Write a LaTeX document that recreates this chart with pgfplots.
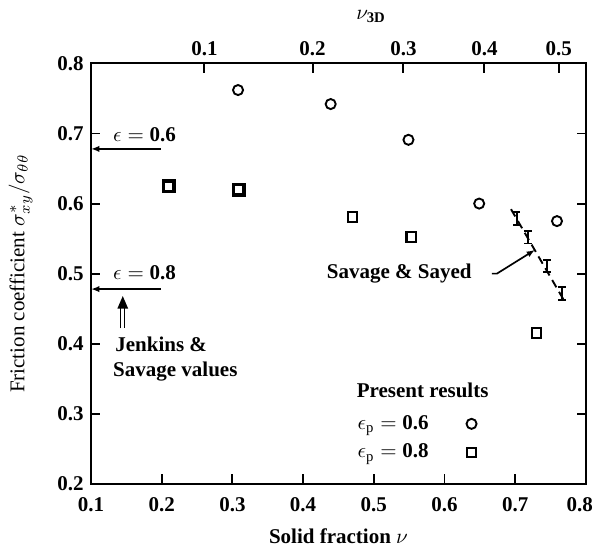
\documentclass[border=0pt]{standalone}
\usepackage{fontspec}
\setmainfont{Liberation Serif}
\usepackage{pgfplots}
\pgfplotsset{compat=1.18}
\usetikzlibrary{arrows.meta}

\begin{document}
\begin{tikzpicture}
\begin{axis}[
    scale only axis,
    width=235.7pt, height=200.2pt,
    xmin=0.1, xmax=0.8, ymin=0.2, ymax=0.8,
    xtick={0.1,0.2,0.3,0.4,0.5,0.6,0.7,0.8},
    xticklabels={0.1,0.2,0.3,0.4,0.5,0.6,0.7,\hspace*{-6pt}0.8},
    ytick={0.2,0.3,0.4,0.5,0.6,0.7,0.8},
    xtick pos=left, ytick pos=both,
    tick align=inside,
    major tick length=4.5pt,
    axis line style={line width=0.9pt},
    every tick/.style={black, line width=0.9pt},
    ticklabel style={font=\bfseries},
    xticklabel style={yshift=-3pt},
    /pgf/number format/assume math mode=true,
    /pgf/number format/fixed,
    /pgf/number format/fixed zerofill,
    /pgf/number format/precision=1,
    xlabel={\bfseries Solid fraction $\nu$},
    x label style={at={(axis description cs:0.5,0)}, anchor=center, yshift=-25pt},
    ylabel={Friction coefficient $\sigma^{*}_{xy}/\sigma_{\theta\theta}$},
    y label style={at={(axis description cs:-0.142,0.5)}, anchor=center},
    legend style={draw=none, fill=none, font=\bfseries,
        at={(axis cs:0.463,0.309)}, anchor=north west,
        nodes={inner sep=1.5pt}, row sep=2.5pt, column sep=16.5pt},
    legend cell align=left,
    legend plot pos=right,
]
\coordinate (bl) at (rel axis cs:0,0);
\coordinate (tr) at (rel axis cs:1,1);

% present results, epsilon_p = 0.6
\addplot[only marks, mark=o, mark size=2.4pt, line width=0.9pt, black] coordinates {
    (0.308,0.762) (0.439,0.742) (0.549,0.691) (0.649,0.600) (0.759,0.575)
};
\addlegendentry{$\epsilon_{\mathrm{p}} = {}$0.6}
% present results, epsilon_p = 0.8
\addplot[only marks, mark=square, mark size=2.3pt, line width=1pt, black] coordinates {
    (0.470,0.581) (0.553,0.552) (0.730,0.415)
};
\addlegendentry{$\epsilon_{\mathrm{p}} = {}$0.8}
% the two left squares are printed heavier
\addplot[only marks, mark=square, mark size=2.5pt, line width=1.7pt, black, forget plot] coordinates {
    (0.210,0.625) (0.309,0.620)
};

% Savage & Sayed
\addplot[black, line width=0.9pt, dash pattern=on 4pt off 2.5pt, forget plot] coordinates {
    (0.694,0.592) (0.770,0.460)
};
\addplot[draw=none, no markers, forget plot,
    error bars/.cd, y dir=both, y explicit,
    error bar style={line width=0.9pt, black, solid},
    error mark options={rotate=90, mark size=1.8pt, line width=0.9pt, black}] coordinates {
    (0.702,0.579) +- (0,0.009)
    (0.718,0.552) +- (0,0.009)
    (0.745,0.511) +- (0,0.009)
    (0.766,0.472) +- (0,0.009)
};

% Jenkins & Savage values
\draw[-{Latex[length=4pt,width=3pt]}, line width=0.8pt] (axis cs:0.199,0.678) -- (axis cs:0.1,0.678);
\draw[-{Latex[length=4pt,width=3pt]}, line width=0.8pt] (axis cs:0.199,0.478) -- (axis cs:0.1,0.478);
\node[anchor=west, font=\bfseries] at (axis cs:0.121,0.698) {$\epsilon = {}$0.6};
\node[anchor=west, font=\bfseries] at (axis cs:0.121,0.501) {$\epsilon = {}$0.8};
\draw[double, double distance=1.3pt, line width=0.5pt] (axis cs:0.145,0.422) -- (axis cs:0.145,0.452);
\fill ([xshift=-2.6pt]axis cs:0.145,0.450) -- ([xshift=2.6pt]axis cs:0.145,0.450) -- (axis cs:0.145,0.468) -- cycle;
\node[anchor=west, font=\bfseries] at (axis cs:0.124,0.3985) {Jenkins \&};
\node[anchor=west, font=\bfseries] at (axis cs:0.121,0.360) {Savage values};

\node[font=\bfseries] at (axis cs:0.536,0.500) {Savage \& Sayed};
\draw[-{Latex[length=4pt,width=3pt]}, line width=0.8pt] (axis cs:0.667,0.500) -- (axis cs:0.674,0.500) -- (axis cs:0.728,0.534);

\node[font=\bfseries] at (axis cs:0.569,0.334) {Present results};
\end{axis}

% top axis: three-dimensional solid fraction
\begin{axis}[
    scale only axis,
    width=235.7pt, height=200.2pt,
    xmin=0.1, xmax=0.8, ymin=0.2, ymax=0.8,
    axis x line*=top,
    hide y axis,
    tick align=inside,
    major tick length=4.5pt,
    axis line style={line width=0.9pt},
    every tick/.style={black, line width=0.9pt},
    xtick={0.26045,0.41346,0.54182,0.65636,0.76163},
    xticklabels={0.1,0.2,0.3,0.4,0.5},
    ticklabel style={font=\bfseries},
    xlabel={$\nu_{\mathbf{3D}}$},
    x label style={at={(axis description cs:0.566,1)}, anchor=center, yshift=22.5pt},
]
\addplot[draw=none] coordinates {(0.1,0.2)};
\end{axis}

\pgfresetboundingbox
\path ([shift={(-43.3pt,-32.9pt)}]bl) rectangle ([shift={(4.3pt,30.2pt)}]tr);
\end{tikzpicture}
\end{document}
